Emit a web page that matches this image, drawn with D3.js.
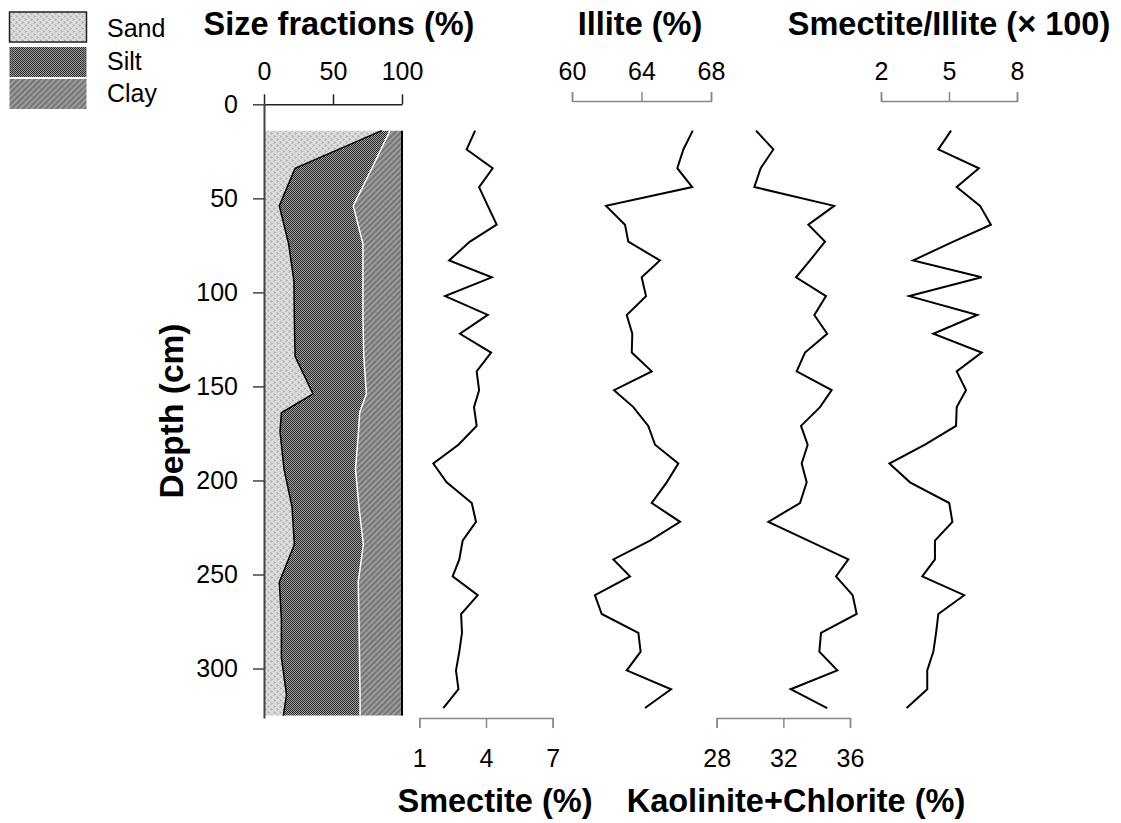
<!DOCTYPE html>
<html>
<head>
<meta charset="utf-8">
<script src="https://cdn.jsdelivr.net/npm/d3@7"></script>
<style>
  body { margin: 0; background: #fff; }
  text { font-family: "Liberation Sans", Arial, sans-serif; }
</style>
</head>
<body>
<div id="container"></div>
<script>
const width = 1121;
const height = 823;

// grain size samples (cm, %)
const sizeDepth = [14, 34, 54, 74, 94, 114, 134, 154, 164, 174, 194, 214, 234, 254, 274, 294, 314, 325];
const sand = [85.3, 22.5, 11.1, 17.8, 21.7, 22.0, 22.5, 35.5, 12.6, 11.6, 14.5, 20.3, 22.0, 11.1, 12.6, 12.6, 16.3, 14.0];
const silt = [6.0, 55.7, 53.6, 53.9, 50.0, 49.7, 49.8, 38.7, 56.7, 56.9, 51.8, 48.5, 50.0, 57.2, 56.2, 56.6, 53.3, 55.6];
const clay = [8.7, 21.8, 35.3, 28.3, 28.3, 28.3, 27.7, 25.8, 30.7, 31.5, 33.7, 31.2, 28.0, 31.7, 31.2, 30.8, 30.4, 30.4];

// clay mineral samples
const depth = [14, 24, 34, 44, 54, 64, 73, 83, 92, 102, 112, 122, 132, 142, 152, 161, 171, 181, 191, 201, 212, 222, 232, 242, 251, 261, 271, 281, 291, 301, 311, 321];
const smectite = [3.51, 3.13, 4.30, 3.69, 4.08, 4.48, 3.28, 2.34, 4.26, 2.16, 4.08, 2.83, 4.23, 3.58, 3.69, 3.46, 3.58, 2.76, 1.63, 2.23, 3.36, 3.55, 2.95, 2.80, 2.50, 3.63, 2.88, 2.92, 2.80, 2.65, 2.76, 2.08];
const illite = [66.95, 66.41, 66.06, 66.92, 61.96, 63.05, 63.24, 65.06, 64.01, 64.26, 63.15, 63.47, 63.44, 64.59, 62.42, 63.53, 64.39, 64.78, 66.12, 65.45, 64.59, 66.22, 64.49, 62.38, 63.34, 61.32, 61.71, 63.82, 63.95, 63.15, 65.70, 64.20];
const kaoChl = [30.36, 31.40, 30.64, 30.26, 35.05, 33.50, 34.50, 33.60, 32.76, 34.56, 33.86, 34.63, 33.30, 32.80, 34.90, 34.20, 33.06, 33.46, 33.10, 33.40, 33.00, 31.10, 33.50, 35.90, 35.16, 36.16, 36.40, 34.26, 34.16, 35.24, 32.44, 34.63];
const smIll = [5.09, 4.53, 6.32, 5.34, 6.37, 6.85, 5.19, 3.42, 6.44, 3.25, 6.25, 4.31, 6.44, 5.34, 5.75, 5.34, 5.31, 3.94, 2.37, 3.28, 5.01, 5.15, 4.38, 4.38, 3.82, 5.67, 4.53, 4.43, 4.31, 4.04, 4.04, 3.13];

const depthTicks = [0, 50, 100, 150, 200, 250, 300];
const sizeTicks = [0, 50, 100];
const smectiteTicks = [1, 4, 7];
const illiteTicks = [60, 64, 68];
const kaoTicks = [28, 32, 36];
const ratioTicks = [2, 5, 8];

const legendNames = ["Sand", "Silt", "Clay"];

const y = d3.scaleLinear().domain([0, 326.3]).range([104.3, 718]);

const xSize = d3.scaleLinear().domain([0, 100]).range([264, 402]);
const xSm = d3.scaleLinear().domain([1, 7]).range([419.3, 552.7]);
const xIl = d3.scaleLinear().domain([60, 68]).range([572, 711]);
const xKc = d3.scaleLinear().domain([28, 36]).range([716.7, 850]);
const xSi = d3.scaleLinear().domain([2, 8]).range([881, 1017]);

const svg = d3.create("svg")
    .attr("width", width)
    .attr("height", height);

// fill patterns
const defs = svg.append("defs");

const pSand = defs.append("pattern").attr("id", "p-sand")
    .attr("patternUnits", "userSpaceOnUse").attr("width", 6).attr("height", 6);
pSand.append("rect").attr("width", 6).attr("height", 6).attr("fill", "#dcdcdc");
pSand.append("path").attr("d", "M1,0.5 L2,1.5 L1,2.5 M4,3.5 L5,4.5 L4,5.5")
    .attr("stroke", "#6f6f6f").attr("stroke-width", 0.9).attr("fill", "none");

const pSilt = defs.append("pattern").attr("id", "p-silt")
    .attr("patternUnits", "userSpaceOnUse").attr("width", 2).attr("height", 2);
pSilt.append("rect").attr("width", 2).attr("height", 2).attr("fill", "#2a2a2a");
pSilt.append("rect").attr("x", 1).attr("width", 1).attr("height", 1).attr("fill", "#a0a0a0");
pSilt.append("rect").attr("y", 1).attr("width", 1).attr("height", 1).attr("fill", "#a0a0a0");

const pClay = defs.append("pattern").attr("id", "p-clay")
    .attr("patternUnits", "userSpaceOnUse").attr("width", 4).attr("height", 4)
    .attr("patternTransform", "rotate(45)");
pClay.append("rect").attr("width", 4).attr("height", 4).attr("fill", "#9c9c9c");
pClay.append("line").attr("x1", 1).attr("y1", 0).attr("x2", 1).attr("y2", 4)
    .attr("stroke", "#555").attr("stroke-width", 1.1);

// size fraction stack
const sizeData = sizeDepth.map((d, i) => ({ depth: d, sand: sand[i], silt: silt[i], clay: clay[i] }));

const stackArea = (lo, hi) => d3.area()
    .y(d => y(d.depth))
    .x0(d => xSize(lo(d)))
    .x1(d => xSize(hi(d)));

svg.append("path").datum(sizeData)
    .attr("fill", "url(#p-clay)")
    .attr("d", stackArea(d => d.sand + d.silt, d => d.sand + d.silt + d.clay));
svg.append("path").datum(sizeData)
    .attr("fill", "url(#p-silt)")
    .attr("d", stackArea(d => d.sand, d => d.sand + d.silt));
svg.append("path").datum(sizeData)
    .attr("fill", "url(#p-sand)")
    .attr("d", stackArea(d => 0, d => d.sand));

svg.append("path").datum(sizeData)
    .attr("fill", "none").attr("stroke", "#000").attr("stroke-width", 1.5)
    .attr("d", d3.line().x(d => xSize(d.sand)).y(d => y(d.depth)));
svg.append("path").datum(sizeData)
    .attr("fill", "none").attr("stroke", "#fff").attr("stroke-width", 1.5)
    .attr("d", d3.line().x(d => xSize(d.sand + d.silt)).y(d => y(d.depth)));
svg.append("path").datum(sizeData)
    .attr("fill", "none").attr("stroke", "#000").attr("stroke-width", 2)
    .attr("d", d3.line().x(d => xSize(d.sand + d.silt + d.clay)).y(d => y(d.depth)));

// mineral profiles
const profiles = [
    { values: smectite, x: xSm },
    { values: illite, x: xIl },
    { values: kaoChl, x: xKc },
    { values: smIll, x: xSi }
];

profiles.forEach(p => {
    svg.append("path")
        .datum(depth.map((d, i) => [p.values[i], d]))
        .attr("fill", "none")
        .attr("stroke", "#000")
        .attr("stroke-width", 2)
        .attr("d", d3.line().x(d => p.x(d[0])).y(d => y(d[1])));
});

// axes
const fs = 25;
const fmt = d3.format("d");

function styleAxis(g, color) {
    g.selectAll("path, line").attr("stroke", color).attr("stroke-width", 1.5);
    g.selectAll("text").attr("fill", "#000")
        .style("font-size", fs + "px")
        .style("font-family", "'Liberation Sans', Arial, sans-serif");
}

svg.append("g")
    .attr("transform", "translate(264,0)")
    .call(d3.axisLeft(y).tickValues(depthTicks).tickFormat(fmt).tickSize(11).tickSizeOuter(0).tickPadding(15))
    .call(g => styleAxis(g, "#444"))
    .call(g => g.select(".domain").attr("stroke-width", 2));

svg.append("g")
    .attr("transform", "translate(0,104.3)")
    .call(d3.axisTop(xSize).tickValues(sizeTicks).tickFormat(fmt).tickSize(10).tickSizeOuter(0).tickPadding(14))
    .call(g => styleAxis(g, "#222"));

svg.append("g")
    .attr("transform", "translate(0,101)")
    .call(d3.axisTop(xIl).tickValues(illiteTicks).tickFormat(fmt).tickSize(9).tickPadding(12))
    .call(g => styleAxis(g, "#888"));

svg.append("g")
    .attr("transform", "translate(0,101)")
    .call(d3.axisTop(xSi).tickValues(ratioTicks).tickFormat(fmt).tickSize(9).tickPadding(12))
    .call(g => styleAxis(g, "#888"));

svg.append("g")
    .attr("transform", "translate(0,718)")
    .call(d3.axisBottom(xSm).tickValues(smectiteTicks).tickFormat(fmt).tickSize(10).tickPadding(21))
    .call(g => styleAxis(g, "#888"));

svg.append("g")
    .attr("transform", "translate(0,718)")
    .call(d3.axisBottom(xKc).tickValues(kaoTicks).tickFormat(fmt).tickSize(10).tickPadding(21))
    .call(g => styleAxis(g, "#888"));

// titles
const titles = [
    { text: "Size fractions (%)", x: 339, y: 35 },
    { text: "Illite (%)", x: 640, y: 35 },
    { text: "Smectite/Illite (× 100)", x: 949, y: 35 },
    { text: "Smectite (%)", x: 495, y: 812 },
    { text: "Kaolinite+Chlorite (%)", x: 796, y: 812 }
];
svg.selectAll("text.title")
    .data(titles)
    .join("text")
    .attr("class", "title")
    .attr("x", d => d.x)
    .attr("y", d => d.y)
    .attr("text-anchor", "middle")
    .style("font-size", "32.5px")
    .style("font-weight", "bold")
    .text(d => d.text);

svg.append("text")
    .attr("transform", "translate(183,411) rotate(-90)")
    .attr("text-anchor", "middle")
    .style("font-size", "33.5px")
    .style("font-weight", "bold")
    .text("Depth (cm)");

// legend
const legendFill = ["url(#p-sand)", "url(#p-silt)", "url(#p-clay)"];
const legendTop = [12, 47, 79];
const legendBase = [37, 70, 102];

legendNames.forEach((name, i) => {
    svg.append("rect")
        .attr("x", 9.5).attr("y", legendTop[i])
        .attr("width", 77).attr("height", 30)
        .attr("fill", legendFill[i])
        .attr("stroke", i === 0 ? "#222" : "none")
        .attr("stroke-width", 1.5);
    svg.append("text")
        .attr("x", 107).attr("y", legendBase[i])
        .style("font-size", fs + "px")
        .text(name);
});

document.getElementById("container").append(svg.node());
</script>
</body>
</html>
